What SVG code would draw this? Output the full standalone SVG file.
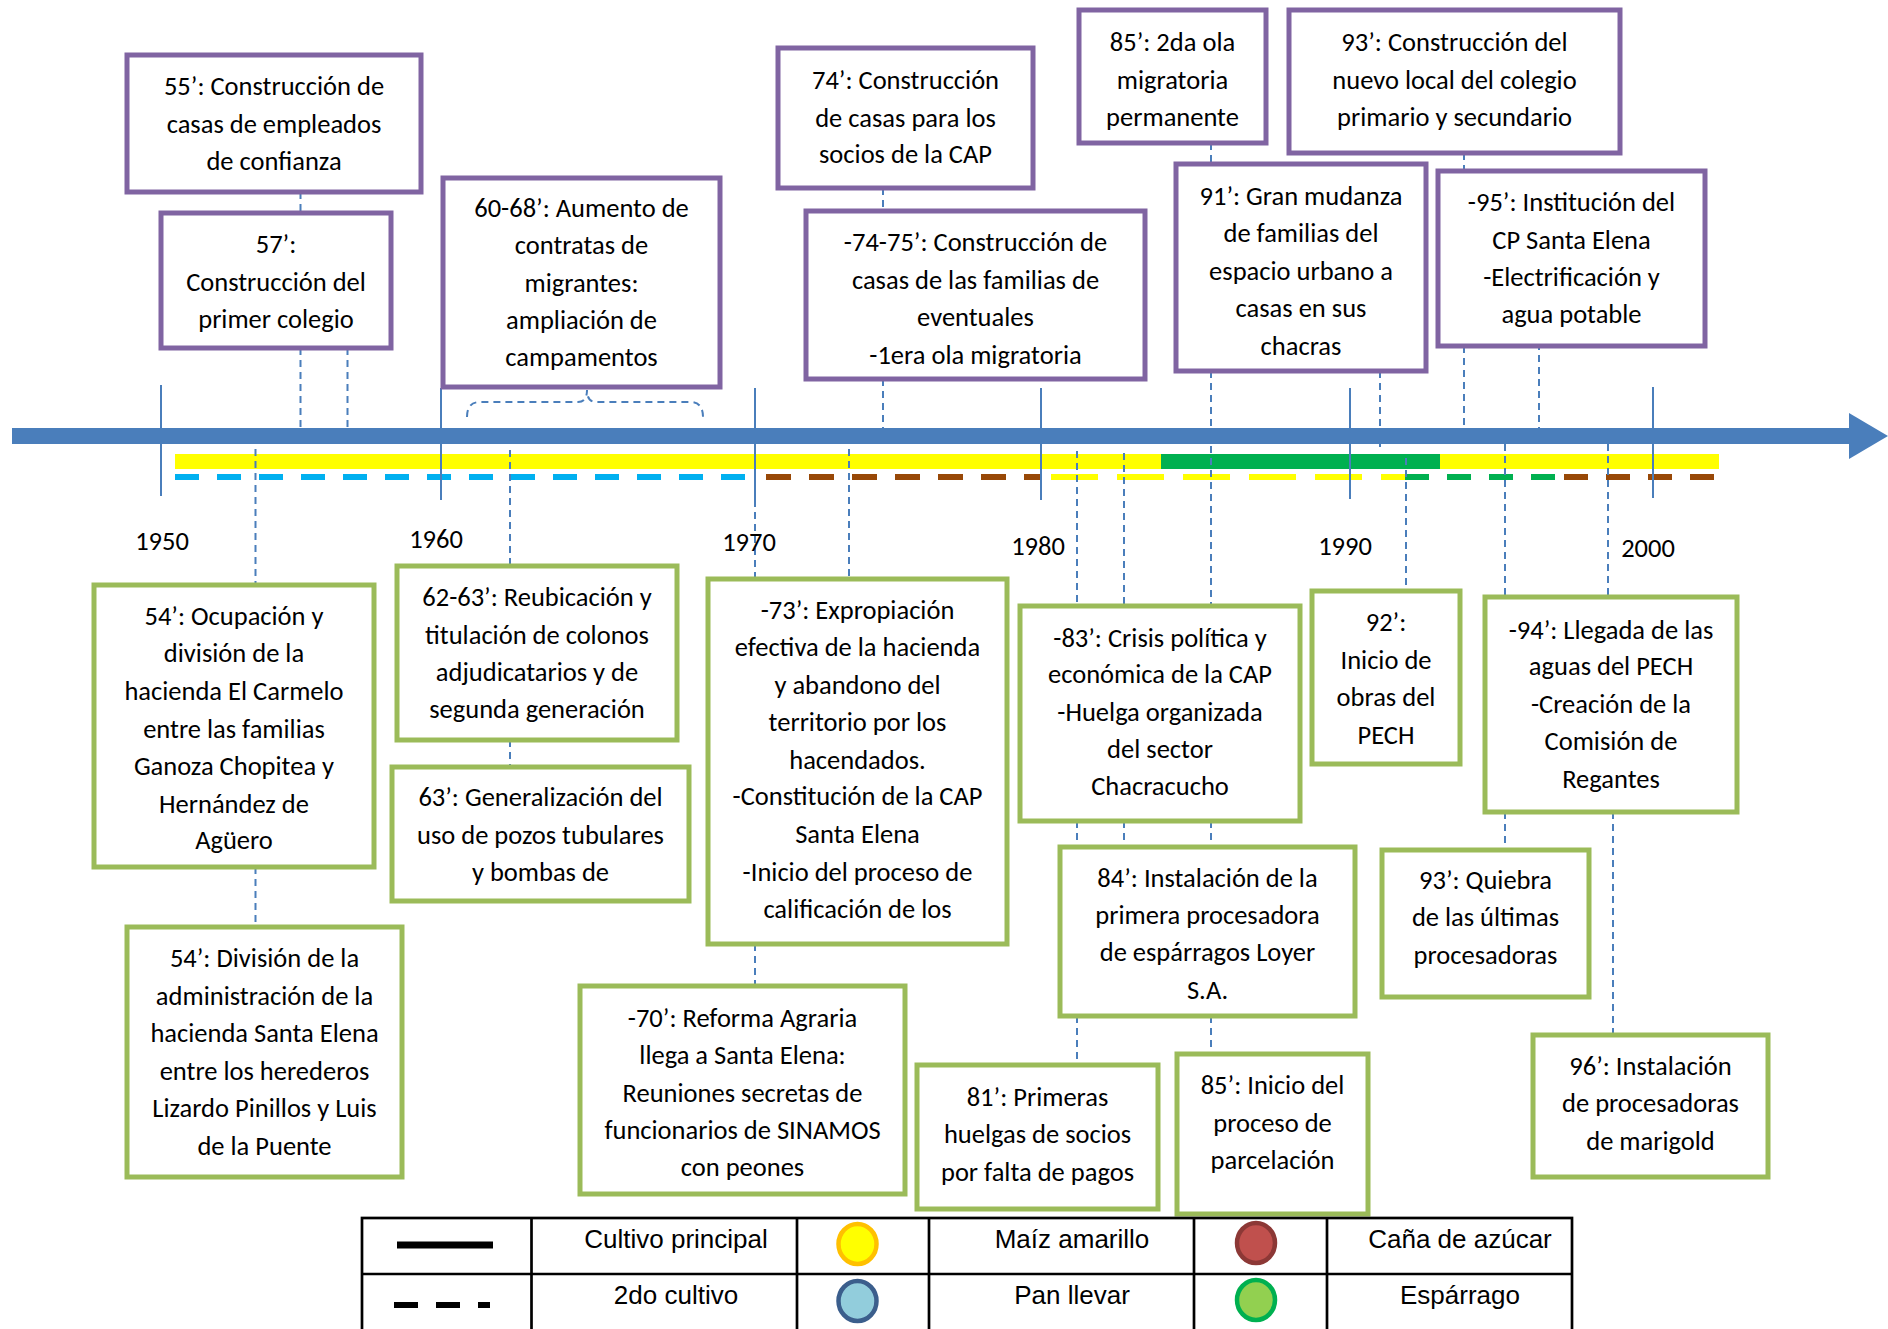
<svg xmlns="http://www.w3.org/2000/svg" width="1888" height="1329" viewBox="0 0 1888 1329">
<style>
.p{fill:#fff;stroke:#8064A2;stroke-width:5}
.g{fill:#fff;stroke:#9BBB59;stroke-width:5}
.t{font-family:Carlito,Lato,"Open Sans",sans-serif;font-size:26.5px;fill:#000;text-anchor:middle}
.yr{font-family:Carlito,Lato,"Open Sans",sans-serif;font-size:26.5px;fill:#000;text-anchor:middle}
.lg{font-family:"Liberation Sans",Arial,sans-serif;font-size:26px;fill:#000;text-anchor:middle}
.c{stroke:#4A7EBB;stroke-width:2;stroke-dasharray:7 5;fill:none}
.tk{stroke:#4A7EBB;stroke-width:2;fill:none}
.tb{stroke:#000;stroke-width:2.7;fill:none}
</style>
<rect width="1888" height="1329" fill="#fff"/>

<!-- crop bars -->
<g id="bars">
<rect x="175" y="454" width="986" height="15" fill="#FFFF00"/>
<rect x="1161" y="454" width="279" height="15" fill="#00B050"/>
<rect x="1440" y="454" width="279" height="15" fill="#FFFF00"/>
<line x1="175" y1="477" x2="745" y2="477" stroke="#00B0F0" stroke-width="6" stroke-dasharray="24 18"/>
<line x1="766" y1="477" x2="1042" y2="477" stroke="#984807" stroke-width="6" stroke-dasharray="25 18"/>
<line x1="1051" y1="477" x2="1405" y2="477" stroke="#FFFF00" stroke-width="6" stroke-dasharray="47 19"/>
<line x1="1405" y1="477" x2="1555" y2="477" stroke="#00B050" stroke-width="6" stroke-dasharray="24 18"/>
<line x1="1564" y1="477" x2="1716" y2="477" stroke="#984807" stroke-width="6" stroke-dasharray="24 18"/>
</g>

<!-- decade ticks -->
<g id="ticks">
<line class="tk" x1="161" y1="385" x2="161" y2="496"/>
<line class="tk" x1="441" y1="388" x2="441" y2="500"/>
<line class="tk" x1="755" y1="388" x2="755" y2="500"/>
<line class="tk" x1="1041" y1="388" x2="1041" y2="500"/>
<line class="tk" x1="1350" y1="388" x2="1350" y2="499"/>
<line class="tk" x1="1653" y1="387" x2="1653" y2="498"/>
</g>

<g id="connectors">
<path class="c" d="M300.5 192V213M300.5 348V428M347.5 348V428"/>
<path class="c" d="M255.5 449V585M255.5 867V927"/>
<path class="c" d="M510 450V566M510 740V767"/>
<path class="c" d="M467 417Q467 402 480 402H578Q587 402 587 390Q587 402 596 402H690Q703 402 703 417"/>
<path class="c" d="M755 500V579M755 944V986"/>
<path class="c" d="M883 188V211M883 379V428"/>
<path class="c" d="M849 449V579"/>
<path class="c" d="M1077 451V606M1077 821V847M1077 1016V1065"/>
<path class="c" d="M1124 453V606M1124 821V847"/>
<path class="c" d="M1211 143V164M1211 371V428M1211 446V606M1211 821V847M1211 1016V1054"/>
<path class="c" d="M1380 371V447"/>
<path class="c" d="M1406 458V591"/>
<path class="c" d="M1464 153V171M1464 346V428"/>
<path class="c" d="M1539 343V428"/>
<path class="c" d="M1505 444V597M1505 812V850"/>
<path class="c" d="M1608 444V597M1613 812V1035"/>
</g>

<!-- main axis -->
<g id="axis">
<rect x="12" y="428" width="1838" height="16" fill="#4A7EBB"/>
<polygon points="1849,413 1888,436 1849,459" fill="#4A7EBB"/>
</g>

<g id="years">
<text class="yr" x="162" y="550">1950</text>
<text class="yr" x="436" y="548">1960</text>
<text class="yr" x="749" y="551">1970</text>
<text class="yr" x="1038" y="555">1980</text>
<text class="yr" x="1345" y="555">1990</text>
<text class="yr" x="1648" y="557">2000</text>
</g>

<!-- purple boxes -->
<g id="b55"><rect class="p" x="127" y="55" width="294" height="137"/>
<text class="t"><tspan x="274" y="95">55’: Construcción de</tspan><tspan x="274" y="133">casas de empleados</tspan><tspan x="274" y="170">de confianza</tspan></text></g>
<g id="b57"><rect class="p" x="161" y="213" width="230" height="135"/>
<text class="t"><tspan x="276" y="253">57’:</tspan><tspan x="276" y="291">Construcción del</tspan><tspan x="276" y="328">primer colegio</tspan></text></g>
<g id="b6068"><rect class="p" x="443" y="178" width="277" height="209"/>
<text class="t"><tspan x="581.5" y="217">60-68’: Aumento de</tspan><tspan x="581.5" y="254">contratas de</tspan><tspan x="581.5" y="292">migrantes:</tspan><tspan x="581.5" y="329">ampliación de</tspan><tspan x="581.5" y="366">campamentos</tspan></text></g>
<g id="b74"><rect class="p" x="778" y="48" width="255" height="140"/>
<text class="t"><tspan x="905.5" y="89">74’: Construcción</tspan><tspan x="905.5" y="127">de casas para los</tspan><tspan x="905.5" y="163">socios de la CAP</tspan></text></g>
<g id="b85a"><rect class="p" x="1079" y="10" width="187" height="133"/>
<text class="t"><tspan x="1172.5" y="51">85’: 2da ola</tspan><tspan x="1172.5" y="89">migratoria</tspan><tspan x="1172.5" y="126">permanente</tspan></text></g>
<g id="b93a"><rect class="p" x="1289" y="10" width="331" height="143"/>
<text class="t"><tspan x="1454.5" y="51">93’: Construcción del</tspan><tspan x="1454.5" y="89">nuevo local del colegio</tspan><tspan x="1454.5" y="126">primario y secundario</tspan></text></g>
<g id="b7475"><rect class="p" x="806" y="211" width="339" height="168"/>
<text class="t"><tspan x="975.5" y="251">-74-75’: Construcción de</tspan><tspan x="975.5" y="289">casas de las familias de</tspan><tspan x="975.5" y="326">eventuales</tspan><tspan x="975.5" y="364">-1era ola migratoria</tspan></text></g>
<g id="b91"><rect class="p" x="1176" y="164" width="250" height="207"/>
<text class="t"><tspan x="1301" y="205">91’: Gran mudanza</tspan><tspan x="1301" y="242">de familias del</tspan><tspan x="1301" y="280">espacio urbano a</tspan><tspan x="1301" y="317">casas en sus</tspan><tspan x="1301" y="355">chacras</tspan></text></g>
<g id="b95"><rect class="p" x="1438" y="171" width="267" height="175"/>
<text class="t"><tspan x="1571.5" y="211">-95’: Institución del</tspan><tspan x="1571.5" y="249">CP Santa Elena</tspan><tspan x="1571.5" y="286">-Electrificación y</tspan><tspan x="1571.5" y="323">agua potable</tspan></text></g>

<!-- green boxes -->
<g id="b54a"><rect class="g" x="94" y="585" width="280" height="282"/>
<text class="t"><tspan x="234" y="625">54’: Ocupación y</tspan><tspan x="234" y="662">división de la</tspan><tspan x="234" y="700">hacienda El Carmelo</tspan><tspan x="234" y="738">entre las familias</tspan><tspan x="234" y="775">Ganoza Chopitea y</tspan><tspan x="234" y="813">Hernández de</tspan><tspan x="234" y="849">Agüero</tspan></text></g>
<g id="b6263"><rect class="g" x="397" y="566" width="280" height="174"/>
<text class="t"><tspan x="537" y="606">62-63’: Reubicación y</tspan><tspan x="537" y="644">titulación de colonos</tspan><tspan x="537" y="681">adjudicatarios y de</tspan><tspan x="537" y="718">segunda generación</tspan></text></g>
<g id="b63"><rect class="g" x="392" y="767" width="297" height="134"/>
<text class="t"><tspan x="540.5" y="806">63’: Generalización del</tspan><tspan x="540.5" y="844">uso de pozos tubulares</tspan><tspan x="540.5" y="881">y bombas de</tspan></text></g>
<g id="b73"><rect class="g" x="708" y="579" width="299" height="365"/>
<text class="t"><tspan x="857.5" y="619">-73’: Expropiación</tspan><tspan x="857.5" y="656">efectiva de la hacienda</tspan><tspan x="857.5" y="694">y abandono del</tspan><tspan x="857.5" y="731">territorio por los</tspan><tspan x="857.5" y="769">hacendados.</tspan><tspan x="857.5" y="805">-Constitución de la CAP</tspan><tspan x="857.5" y="843">Santa Elena</tspan><tspan x="857.5" y="881">-Inicio del proceso de</tspan><tspan x="857.5" y="918">calificación de los</tspan></text></g>
<g id="b83"><rect class="g" x="1020" y="606" width="280" height="215"/>
<text class="t"><tspan x="1160" y="647">-83’: Crisis política y</tspan><tspan x="1160" y="683">económica de la CAP</tspan><tspan x="1160" y="721">-Huelga organizada</tspan><tspan x="1160" y="758">del sector</tspan><tspan x="1160" y="795">Chacracucho</tspan></text></g>
<g id="b92"><rect class="g" x="1312" y="591" width="148" height="173"/>
<text class="t"><tspan x="1386" y="631">92’:</tspan><tspan x="1386" y="669">Inicio de</tspan><tspan x="1386" y="706">obras del</tspan><tspan x="1386" y="744">PECH</tspan></text></g>
<g id="b94"><rect class="g" x="1485" y="597" width="252" height="215"/>
<text class="t"><tspan x="1611" y="639">-94’: Llegada de las</tspan><tspan x="1611" y="675">aguas del PECH</tspan><tspan x="1611" y="713">-Creación de la</tspan><tspan x="1611" y="750">Comisión de</tspan><tspan x="1611" y="788">Regantes</tspan></text></g>
<g id="b84"><rect class="g" x="1060" y="847" width="295" height="169"/>
<text class="t"><tspan x="1207.5" y="887">84’: Instalación de la</tspan><tspan x="1207.5" y="924">primera procesadora</tspan><tspan x="1207.5" y="961">de espárragos Loyer</tspan><tspan x="1207.5" y="999">S.A.</tspan></text></g>
<g id="b93b"><rect class="g" x="1382" y="850" width="207" height="147"/>
<text class="t"><tspan x="1485.5" y="889">93’: Quiebra</tspan><tspan x="1485.5" y="926">de las últimas</tspan><tspan x="1485.5" y="964">procesadoras</tspan></text></g>
<g id="b54b"><rect class="g" x="127" y="927" width="275" height="250"/>
<text class="t"><tspan x="264.5" y="967">54’: División de la</tspan><tspan x="264.5" y="1005">administración de la</tspan><tspan x="264.5" y="1042">hacienda Santa Elena</tspan><tspan x="264.5" y="1080">entre los herederos</tspan><tspan x="264.5" y="1117">Lizardo Pinillos y Luis</tspan><tspan x="264.5" y="1155">de la Puente</tspan></text></g>
<g id="b70"><rect class="g" x="580" y="986" width="325" height="208"/>
<text class="t"><tspan x="742.5" y="1027">-70’: Reforma Agraria</tspan><tspan x="742.5" y="1064">llega a Santa Elena:</tspan><tspan x="742.5" y="1102">Reuniones secretas de</tspan><tspan x="742.5" y="1139">funcionarios de SINAMOS</tspan><tspan x="742.5" y="1176">con peones</tspan></text></g>
<g id="b81"><rect class="g" x="917" y="1065" width="241" height="144"/>
<text class="t"><tspan x="1037.5" y="1106">81’: Primeras</tspan><tspan x="1037.5" y="1143">huelgas de socios</tspan><tspan x="1037.5" y="1181">por falta de pagos</tspan></text></g>
<g id="b85b"><rect class="g" x="1177" y="1054" width="191" height="160"/>
<text class="t"><tspan x="1272.5" y="1094">85’: Inicio del</tspan><tspan x="1272.5" y="1132">proceso de</tspan><tspan x="1272.5" y="1169">parcelación</tspan></text></g>
<g id="b96"><rect class="g" x="1533" y="1035" width="235" height="142"/>
<text class="t"><tspan x="1650.5" y="1075">96’: Instalación</tspan><tspan x="1650.5" y="1112">de procesadoras</tspan><tspan x="1650.5" y="1150">de marigold</tspan></text></g>

<!-- legend -->
<g id="legend">
<rect class="tb" x="362" y="1218" width="1210" height="130" fill="#fff"/>
<line class="tb" x1="362" y1="1274" x2="1572" y2="1274"/>
<line class="tb" x1="531.5" y1="1218" x2="531.5" y2="1329"/>
<line class="tb" x1="797" y1="1218" x2="797" y2="1329"/>
<line class="tb" x1="929" y1="1218" x2="929" y2="1329"/>
<line class="tb" x1="1194" y1="1218" x2="1194" y2="1329"/>
<line class="tb" x1="1327" y1="1218" x2="1327" y2="1329"/>
<line x1="397" y1="1245" x2="493" y2="1245" stroke="#000" stroke-width="7"/>
<line x1="394" y1="1305" x2="490" y2="1305" stroke="#000" stroke-width="6" stroke-dasharray="24 18"/>
<text class="lg" x="676" y="1248">Cultivo principal</text>
<text class="lg" x="676" y="1304">2do cultivo</text>
<ellipse cx="857.5" cy="1244" rx="19" ry="20" fill="#FFFF00" stroke="#FFC000" stroke-width="4.5"/>
<ellipse cx="857.5" cy="1301" rx="19" ry="20" fill="#92CDDC" stroke="#3B5E8C" stroke-width="4.5"/>
<text class="lg" x="1072" y="1248">Maíz amarillo</text>
<text class="lg" x="1072" y="1304">Pan llevar</text>
<ellipse cx="1256" cy="1243" rx="19" ry="20" fill="#C0504D" stroke="#8C3836" stroke-width="4.5"/>
<ellipse cx="1256" cy="1300" rx="19" ry="20" fill="#92D050" stroke="#00B050" stroke-width="4.5"/>
<text class="lg" x="1460" y="1248">Caña de azúcar</text>
<text class="lg" x="1460" y="1304">Espárrago</text>
</g>
</svg>
